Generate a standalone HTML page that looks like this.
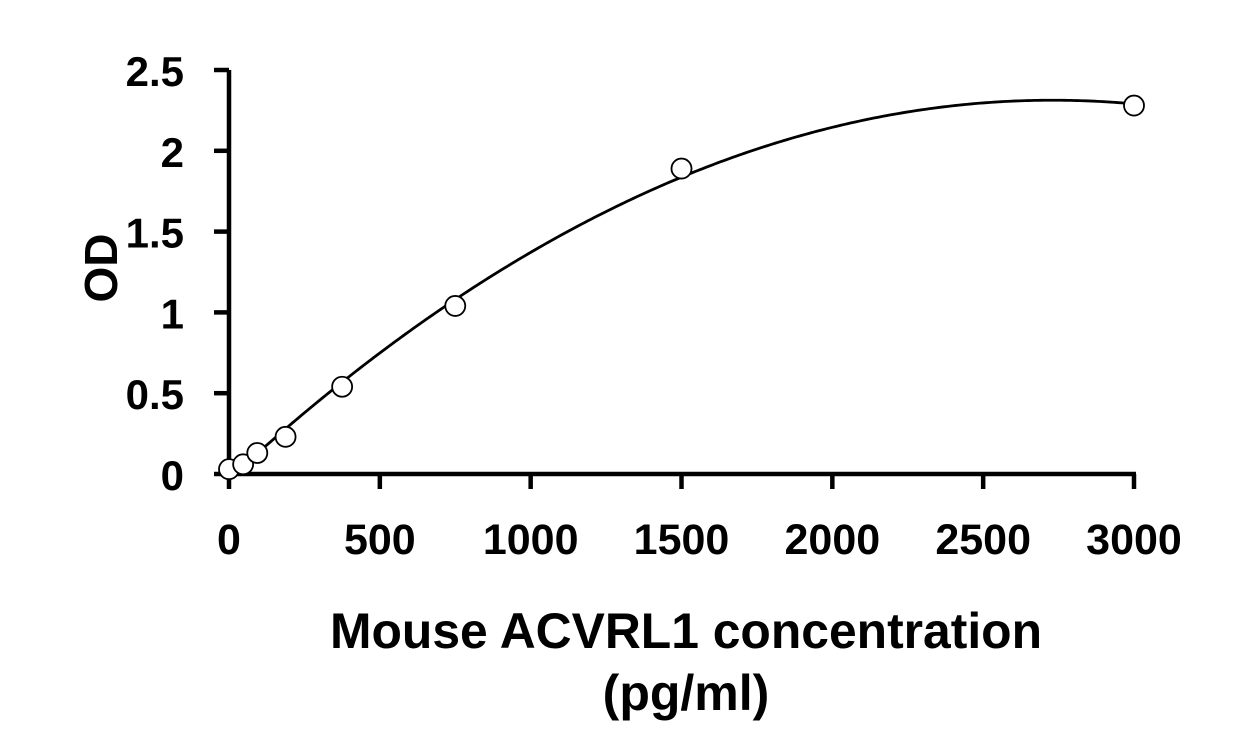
<!DOCTYPE html>
<html><head><meta charset="utf-8"><style>
html,body{margin:0;padding:0;background:#fff;}
svg text{font-family:"Liberation Sans",Arial,sans-serif;font-weight:bold;fill:#000;}
</style></head><body>
<svg id="chart" width="1245" height="750" viewBox="0 0 1245 750" xmlns="http://www.w3.org/2000/svg">
<g id="axes"></g>
<g id="plot"></g>
<text transform="translate(117,268) rotate(-90)" text-anchor="middle" font-size="46">OD</text>
<text x="686" y="648" text-anchor="middle" font-size="50" textLength="712" lengthAdjust="spacingAndGlyphs">Mouse ACVRL1 concentration</text>
<text x="686" y="710" text-anchor="middle" font-size="50">(pg/ml)</text>
</svg>
<script>
const concentrations=[0,46.875,93.75,187.5,375,750,1500,3000];
const odValues=[0.03,0.06,0.13,0.23,0.54,1.04,1.89,2.28];
const xTicks=[0,500,1000,1500,2000,2500,3000];
const yTicks=[0,0.5,1,1.5,2,2.5];
const yTickLabels=["0","0.5","1","1.5","2","2.5"];
const NS="http://www.w3.org/2000/svg";
const X0=229,X1=1134,Y0=474,Y1=70;
const xs=v=>X0+(v-0)/(3000-0)*(X1-X0);
const ys=v=>Y0-(v-0)/(2.5-0)*(Y0-Y1);
function mk(tag,attrs,parent){const e=document.createElementNS(NS,tag);for(const k in attrs)e.setAttribute(k,attrs[k]);parent.appendChild(e);return e;}
const axes=document.getElementById('axes'),plot=document.getElementById('plot');
let e=mk('line',{x1:X0,y1:Y1,x2:X0,y2:Y0+2,stroke:'#000','stroke-width':4.5},axes);


e=mk('line',{x1:X0-2,y1:Y0,x2:X1+2,y2:Y0,stroke:'#000','stroke-width':4.5},axes);


yTicks.forEach((t,i)=>{
 const y=ys(t);
 let l=mk('line',{x1:X0-15,y1:y,x2:X0,y2:y,stroke:'#000','stroke-width':4.5},axes);
 
 
 let tx=mk('text',{x:184,y:y+16,'text-anchor':'end','font-size':42},axes);
 tx.textContent=yTickLabels[i];
 
 
});
xTicks.forEach(t=>{
 const x=xs(t);
 let l=mk('line',{x1:x,y1:Y0,x2:x,y2:Y0+15,stroke:'#000','stroke-width':4.5},axes);
 
 
 let tx=mk('text',{x:x,y:554,'text-anchor':'middle','font-size':43},axes);
 tx.textContent=String(t);
 
 
});
function fit(xv,yv,deg){
 const n=deg+1,A=[],b=[];
 for(let i=0;i<n;i++){A.push(new Array(n).fill(0));b.push(0);}
 xv.forEach((xx,k)=>{const s=xx/1000;for(let i=0;i<n;i++){b[i]+=yv[k]*Math.pow(s,i);for(let j=0;j<n;j++)A[i][j]+=Math.pow(s,i+j);}});
 for(let i=0;i<n;i++){let p=i;for(let r=i+1;r<n;r++)if(Math.abs(A[r][i])>Math.abs(A[p][i]))p=r;[A[i],A[p]]=[A[p],A[i]];[b[i],b[p]]=[b[p],b[i]];
  for(let r=0;r<n;r++){if(r===i)continue;const f=A[r][i]/A[i][i];for(let c=i;c<n;c++)A[r][c]-=f*A[i][c];b[r]-=f*b[i];}}
 return b.map((v,i)=>v/A[i][i]);
}
const co=fit(concentrations,odValues,2);
const f=x=>co.reduce((s,c,i)=>s+c*Math.pow(x/1000,i),0);
let d='';
const xmax=concentrations[concentrations.length-1];
for(let i=0;i<=300;i++){const x=xmax*i/300;d+=(i?'L':'M')+xs(x).toFixed(2)+','+ys(f(x)).toFixed(2);}
e=mk('path',{d:d,fill:'none',stroke:'#000','stroke-width':2.8},plot);


concentrations.forEach((c,i)=>{
 let p=mk('circle',{cx:xs(c),cy:ys(odValues[i]),r:10,fill:'#fff',stroke:'#000','stroke-width':1.8},plot);
 
 
});
</script>
</body></html>
